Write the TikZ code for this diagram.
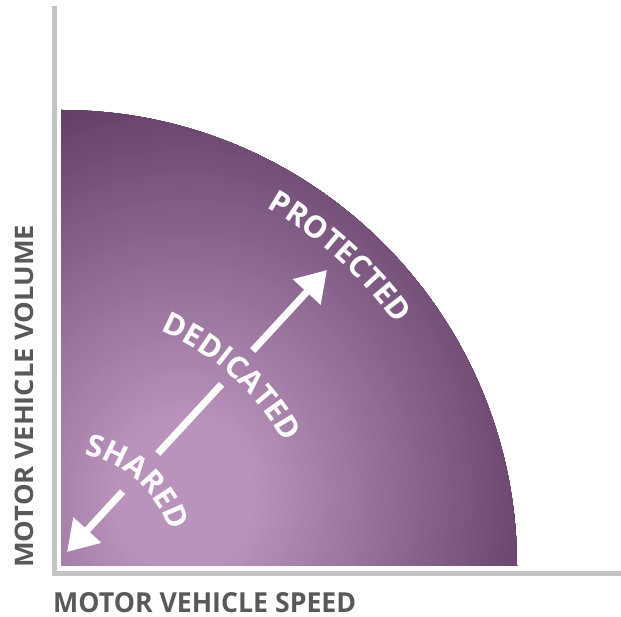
\documentclass[tikz,border=0pt]{standalone}
\usepackage{fontspec}
\setmainfont{Open Sans}
\usepackage{graphicx}
\usetikzlibrary{arrows.meta,decorations.text}
\definecolor{plight}{HTML}{B993BC}
\definecolor{pdark}{HTML}{5F3B63}
\definecolor{axisgray}{HTML}{C3C3C5}
\definecolor{labelgray}{HTML}{58595B}
\newcommand\curvefont{\fontsize{30.5}{30.5}\selectfont\bfseries}
\tikzset{
  axisline/.style={draw=axisgray, line width=4.5pt, line join=miter},
  axislabel/.style={inner sep=0pt, text=labelgray, font=\fontsize{28}{28}\selectfont\bfseries},
  shaft/.style={draw=white, line width=7pt},
  headtip/.style={-{Triangle[length=30pt,width=36pt]}},
  curvedlabel/.style={decorate, decoration={text along path, text align=center, text color=white, text={#1}}}
}
\begin{document}
\begin{tikzpicture}[x=1pt,y=1pt]
\useasboundingbox (0,0) rectangle (621,617);
% quarter disk with radial gradient
\coordinate (C) at (61,51);
\coordinate (G) at (185,122);
\begin{scope}
  \clip (C) -- ([shift={(90:456pt)}]C) arc[start angle=90, end angle=0, radius=456pt] -- cycle;
  \fill[pdark] (C) circle[radius=470pt];
  \foreach \i in {0,...,78}{
    \pgfmathsetmacro\r{380-4*\i}
    \pgfmathsetmacro\p{(\r-68)/3.12}
    \fill[pdark!\p!plight] (G) ellipse[x radius=\r pt, y radius=1.12*\r pt];
  }
\end{scope}
% axes
\coordinate (O) at (54.3,43.7);
\coordinate (ytop) at (54.3,611);
\coordinate (xend) at (621,43.7);
\draw[axisline] (ytop) -- (O) -- (xend);
% axis labels
\node[axislabel, anchor=base west] (xlabel) at (53,4.2) {\resizebox{303pt}{20pt}{MOTOR VEHICLE SPEED}};
\node[axislabel, rotate=90, anchor=base west] (ylabel) at (33.3,49) {\resizebox{343pt}{18.5pt}{MOTOR VEHICLE VOLUME}};
% double arrow, broken by labels
\coordinate (tipA) at (67,65);
\coordinate (tipB) at (327,347);
\coordinate (g1) at (122.6,125.3);
\coordinate (g2) at (157.8,163.5);
\coordinate (g3) at (221.5,232.6);
\coordinate (g4) at (252.7,266.4);
\draw[shaft, headtip] (g1) -- (tipA);
\draw[shaft] (g2) -- (g3);
\draw[shaft, headtip] (g4) -- (tipB);
% curved labels
\path[curvedlabel={|\curvefont|PROTECTED}] ([shift={(72:413pt)}]C) arc[start angle=72, end angle=24, radius=413pt];
\path[curvedlabel={|\curvefont|DEDICATED}] ([shift={(88:255pt)}]C) arc[start angle=88, end angle=8, radius=255pt];
\path[curvedlabel={|\curvefont|SHARED}] ([shift={(118:114pt)}]C) arc[start angle=118, end angle=-22, radius=114pt];
\end{tikzpicture}
\end{document}
